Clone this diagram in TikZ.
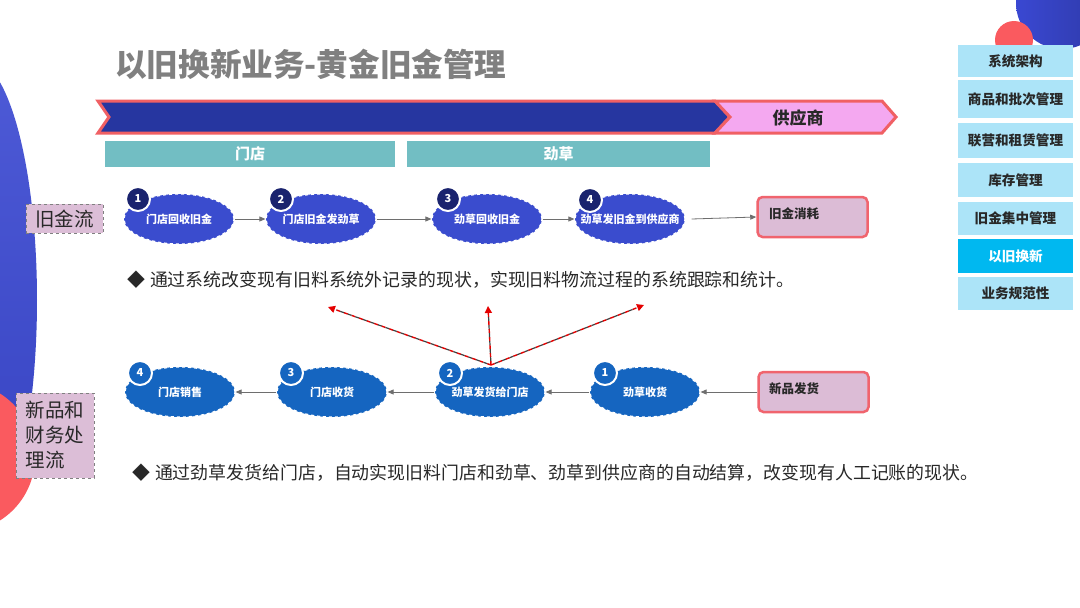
\documentclass[tikz,border=0pt]{standalone}
\usepackage{fontspec}
\setmainfont{Noto Sans CJK SC}
\usetikzlibrary{shapes.geometric,arrows.meta,calc}
\definecolor{titlegray}{RGB}{128,128,128}
\definecolor{navy}{RGB}{38,54,160}
\definecolor{bannerred}{RGB}{240,96,100}
\definecolor{pinkfill}{RGB}{244,168,240}
\definecolor{tealbar}{RGB}{114,190,195}
\definecolor{ellone}{RGB}{58,76,206}
\definecolor{numnavy}{RGB}{26,35,110}
\definecolor{elltwo}{RGB}{21,101,192}
\definecolor{boxpink}{RGB}{220,188,214}
\definecolor{boxred}{RGB}{240,100,110}
\definecolor{lblpink}{RGB}{220,190,215}
\definecolor{menublue}{RGB}{172,228,248}
\definecolor{menusel}{RGB}{0,184,240}
\definecolor{decoblue}{RGB}{58,72,210}
\definecolor{decored}{RGB}{250,90,95}
\definecolor{darktxt}{RGB}{40,40,40}
\definecolor{arrgray}{RGB}{110,110,110}
\tikzset{
  x=1pt, y=-1pt,
  ellbase/.style={ellipse, draw=white, dashed, line width=1.2pt, minimum width=110, minimum height=50, inner sep=0},
  ellA/.style={ellbase, fill=ellone},
  ellB/.style={ellbase, fill=elltwo},
  elltxt/.style={text=white, font=\bfseries\fontsize{11}{12}\selectfont, inner sep=0},
  numbase/.style={circle, draw=white, line width=2pt, minimum size=24, inner sep=0, text=white, font=\bfseries\fontsize{11}{12}\selectfont},
  numA/.style={numbase, fill=numnavy},
  numB/.style={numbase, fill=elltwo},
  endbox/.style={rectangle, rounded corners=5, draw=boxred, line width=2.5pt, fill=boxpink, minimum width=110, minimum height=40},
  endtxt/.style={anchor=west, text=darktxt, font=\bfseries\fontsize{12.5}{14}\selectfont, inner sep=0},
  flowlbl/.style={rectangle, draw=gray, dashed, line width=0.6pt, fill=lblpink, text=darktxt, font=\fontsize{19.5}{25}\selectfont, inner sep=0},
  menubox/.style={rectangle, fill=menublue, minimum width=115, inner sep=0, text=darktxt, font=\bfseries\fontsize{13.6}{15}\selectfont},
  tealbox/.style={rectangle, fill=tealbar, minimum height=26, inner sep=0, text=white, font=\bfseries\fontsize{15}{17}\selectfont},
  bullet/.style={anchor=west, text=darktxt, font=\fontsize{17.9}{20}\selectfont, inner sep=0},
  flowarr/.style={draw=arrgray, line width=0.8pt, -{Triangle[length=6,width=5]}},
  redarr/.style={draw=red!90!black, line width=1.4pt, dash pattern=on 4pt off 4pt, -{Triangle[length=7,width=7]}},
  blackdash/.style={draw=black!75, line width=1.2pt, dash pattern=on 4pt off 4pt, dash phase=4pt}
}
\begin{document}
\begin{tikzpicture}
\useasboundingbox (0,0) rectangle (1080,608);
\fill[white] (0,0) rectangle (1080,608);
% decorations
\shade[top color=decoblue!90!white, bottom color=decoblue!92!black] (-27,300) ellipse [x radius=64, y radius=240];
\fill[decored] (-40,457) circle [radius=75];
\shade[left color=decoblue, right color=decoblue!80!black] (1062,3) circle [radius=46];
\fill[decored] (1014,40) circle [radius=19];
% title
\node[anchor=west, text=titlegray, font=\bfseries\fontsize{31.6}{34}\selectfont, inner sep=0] (title) at (115,64) {以旧换新业务-黄金旧金管理};
% banner
\draw[fill=navy, draw=bannerred, line width=3pt, line join=miter] (98,101) -- (715,101) -- (730,117) -- (715,133) -- (98,133) -- (109,117) -- cycle;
\draw[fill=pinkfill, draw=bannerred, line width=3pt, line join=miter] (715,101) -- (882,101) -- (896,117) -- (882,133) -- (715,133) -- (730,117) -- cycle;
\node[text=darktxt, font=\bfseries\fontsize{17}{19}\selectfont, inner sep=0] (supplier) at (798,118) {供应商};
% teal bars
\node[tealbox, minimum width=290] (store) at (250,153.5) {门店};
\node[tealbox, minimum width=303] (jincao) at (558.5,154) {劲草};
% flow labels
\node[flowlbl, minimum width=77, minimum height=29] (lbl1) at (64.5,218.5) {旧金流};
\node[flowlbl, minimum width=78, minimum height=85, align=left] (lbl2) at (55,435.5) {新品和\\财务处\\理流};
% row 1
\node[ellA, label={[elltxt]center:门店回收旧金}] (a1) at (179,219) {};
\node[ellA, label={[elltxt]center:门店旧金发劲草}] (a2) at (321,219) {};
\node[ellA, label={[elltxt]center:劲草回收旧金}] (a3) at (487,219) {};
\node[ellA, label={[elltxt]center:劲草发旧金到供应商}] (a4) at (630,219) {};
\node[numA] (na1) at (138,199) {1};
\node[numA] (na2) at (281,199) {2};
\node[numA] (na3) at (448,199) {3};
\node[numA] (na4) at (590,200) {4};
\node[endbox] (b1) at (812.5,217) {};
\node[endtxt] (b1t) at (769,214) {旧金消耗};
\draw[flowarr] (a1.east) -- (a2.west);
\draw[flowarr] (a2.east) -- (a3.west);
\draw[flowarr] (a3.east) -- (a4.west);
\draw[flowarr] ([xshift=6]a4.east) -- (b1.west);
% bullet 1
\node[bullet] (t1) at (127,280) {◆\hspace{5pt}通过系统改变现有旧料系统外记录的现状，实现旧料物流过程的系统跟踪和统计。};
% row 2
\node[ellB, label={[elltxt]center:门店销售}] (c4) at (180,392) {};
\node[ellB, label={[elltxt]center:门店收货}] (c3) at (332,392) {};
\node[ellB, label={[elltxt]center:劲草发货给门店}] (c2) at (490,392) {};
\node[ellB, label={[elltxt]center:劲草收货}] (c1) at (645,392) {};
\node[numB] (nc4) at (140,373) {4};
\node[numB] (nc3) at (291,373) {3};
\node[numB] (nc2) at (450,373) {2};
\node[numB] (nc1) at (605,373) {1};
\node[endbox] (b2) at (813.5,392) {};
\node[endtxt] (b2t) at (769,389) {新品发货};
\draw[flowarr] (b2.west) -- (c1.east);
\draw[flowarr] (c1.west) -- (c2.east);
\draw[flowarr] (c2.west) -- (c3.east);
\draw[flowarr] (c3.west) -- (c4.east);
% red dashed arrows
\coordinate (r0) at (491,365);
\coordinate (rl) at (328,307);
\coordinate (rm) at (488,306);
\coordinate (rr) at (644,305);
\draw[redarr] (r0) -- (rl);
\draw[redarr] (r0) -- (rm);
\draw[redarr] (r0) -- (rr);
\draw[blackdash] (r0) -- ($(r0)!0.95!(rl)$);
\draw[blackdash] (r0) -- ($(r0)!0.88!(rm)$);
\draw[blackdash] (r0) -- ($(r0)!0.95!(rr)$);
% bullet 2
\node[bullet] (t2) at (132,473) {◆\hspace{5pt}通过劲草发货给门店，自动实现旧料门店和劲草、劲草到供应商的自动结算，改变现有人工记账的现状。};
% menu
\node[menubox, minimum height=32] (m1) at (1015.5,61) {系统架构};
\node[menubox, minimum height=38] (m2) at (1015.5,99) {商品和批次管理};
\node[menubox, minimum height=35] (m3) at (1015.5,140.5) {联营和租赁管理};
\node[menubox, minimum height=34] (m4) at (1015.5,180) {库存管理};
\node[menubox, minimum height=33] (m5) at (1015.5,218.5) {旧金集中管理};
\node[menubox, minimum height=34, fill=menusel, text=white] (m6) at (1015.5,256) {以旧换新};
\node[menubox, minimum height=33] (m7) at (1015.5,293.5) {业务规范性};
\end{tikzpicture}
\end{document}
